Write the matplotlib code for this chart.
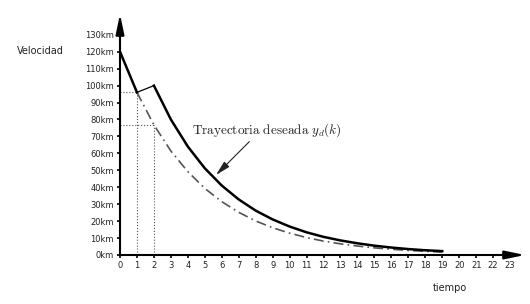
import matplotlib
matplotlib.use("Agg")
import matplotlib.pyplot as plt

# Data
k_real = list(range(0, 20))
vel_real = [120, 96, 100, 80, 64, 51.2, 41, 32.8, 26.2, 21, 16.8, 13.4, 10.7,
            8.6, 6.9, 5.5, 4.4, 3.5, 2.8, 2.3]
k_des = list(range(1, 20))
vel_des = [96, 76.8, 61.4, 49.2, 39.3, 31.5, 25.2, 20.1, 16.1, 12.9, 10.3, 8.2,
           6.6, 5.3, 4.2, 3.4, 2.7, 2.2, 1.7]
x_ticks = list(range(0, 24))
y_ticks = list(range(0, 140, 10))
y_tick_labels = [f"{v}km" for v in y_ticks]

plt.rcParams['mathtext.fontset'] = 'cm'

fig = plt.figure(figsize=(5.30, 3.04), dpi=100)
W, H = 530, 304
x0, y0 = 120, 255
px_x = 16.96
px_y = 1.694
xmax = (525 - x0) / px_x
ymax = (y0 - 14) / px_y
ax = fig.add_axes([x0 / W, (H - y0) / H, (525 - x0) / W, (y0 - 14) / H])
ax.set_xlim(0, xmax)
ax.set_ylim(0, ymax)

for s in ax.spines.values():
    s.set_visible(False)

# axes with arrows
for end in [(1, 0), (0, 1)]:
    ax.annotate("", xy=end, xytext=(0, 0), xycoords='axes fraction',
                arrowprops=dict(arrowstyle='-|>,head_length=1.2,head_width=0.25',
                                color='black', lw=1.5, shrinkA=0, shrinkB=0,
                                mutation_scale=10))

ax.set_xticks(x_ticks)
ax.set_yticks(y_ticks)
ax.set_yticklabels(y_tick_labels)
ax.tick_params(axis='both', length=2.5, width=1.2, color='black',
               labelsize=6, pad=2, labelcolor='#222222')

# dotted guides
ax.plot([k_real[1], k_real[1]], [0, vel_real[1]], ls=':', color='#555555', lw=0.8)
ax.plot([0, k_real[1]], [vel_real[1], vel_real[1]], ls=':', color='#555555', lw=0.8)
ax.plot([k_des[1], k_des[1]], [0, vel_des[1]], ls=':', color='#555555', lw=0.8)
ax.plot([0, k_des[1]], [vel_des[1], vel_des[1]], ls=':', color='#555555', lw=0.8)

# desired trajectory (dash-dot)
ax.plot(k_des, vel_des, color='#555555', lw=1.2, ls=(0, (6, 2.5, 1, 2.5)),
        solid_capstyle='butt')

# real trajectory
ax.plot(k_real[0:2], vel_real[0:2], color='black', lw=1.8)
ax.plot(k_real[1:3], vel_real[1:3], color='black', lw=0.9)
ax.plot(k_real[2:], vel_real[2:], color='black', lw=1.8)

# annotation
ax.annotate(r"$\mathrm{Trayectoria\ deseada}\ y_d(k)$",
            xy=((216 - x0) / px_x, (y0 - 175) / px_y),
            xytext=((192 - x0) / px_x, (y0 - 130) / px_y),
            fontsize=9.5, color='#222222', va='center', ha='left',
            arrowprops=dict(arrowstyle='-|>,head_length=0.9,head_width=0.22',
                            color='#222222', lw=0.8, shrinkA=0, shrinkB=0,
                            mutation_scale=10,
                            relpos=(0.39, -0.1)))

fig.text(17 / W, 1 - 51 / H, "Velocidad", fontsize=7, va='center', ha='left',
         color='#222222')
fig.text(450 / W, 1 - 288 / H, "tiempo", fontsize=7, va='center', ha='center',
         color='#222222')

fig.savefig("out.png", dpi=100)
